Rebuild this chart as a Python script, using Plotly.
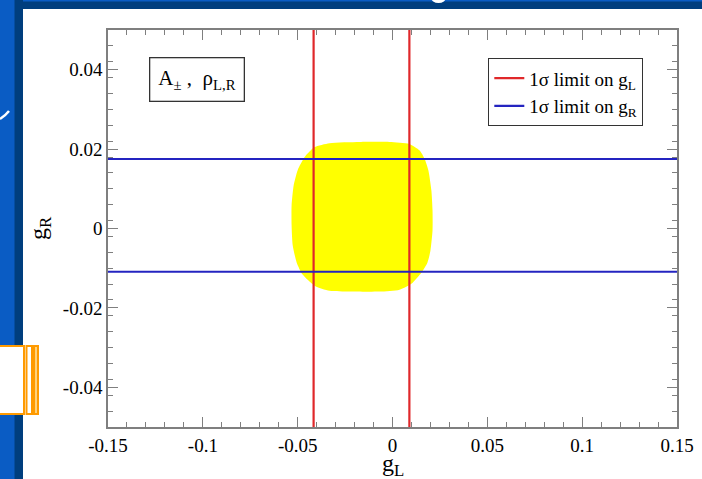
import plotly.graph_objects as go

# ---- data ----
gL_limits = [-0.0416, 0.0089]          # 1 sigma limits on g_L (vertical red lines)
gR_limits = [0.0175, -0.0109]          # 1 sigma limits on g_R (horizontal blue lines)

region_gL = [-0.0332, -0.0174, -0.0016, 0.0089, 0.0142, 0.0168, 0.0189, 0.0205, 0.0211,
             0.0211, 0.0200, 0.0184, 0.0153, 0.0105, 0.0037, -0.0068, -0.0226, -0.0332,
             -0.0411, -0.0474, -0.0505, -0.0526, -0.0532, -0.0532, -0.0521, -0.0500,
             -0.0463, -0.0411, -0.0332]
region_gR = [0.0215, 0.0218, 0.0218, 0.0213, 0.0197, 0.0177, 0.0147, 0.0096, 0.0046,
             -0.0005, -0.0056, -0.0086, -0.0111, -0.0137, -0.0154, -0.0159, -0.0159, -0.0157,
             -0.0144, -0.0116, -0.0086, -0.0043, 0.0008, 0.0058, 0.0109, 0.0147,
             0.0180, 0.0205, 0.0215]

x_range = [-0.15, 0.15]
y_range = [-0.05, 0.05]
x_tickvals = [-0.15, -0.1, -0.05, 0, 0.05, 0.1, 0.15]
x_ticktext = ["-0.15", "-0.1", "-0.05", "0", "0.05", "0.1", "0.15"]
y_tickvals = [-0.04, -0.02, 0, 0.02, 0.04]
y_ticktext = ["-0.04", "-0.02", "0", "0.02", "0.04"]

W, H = 702, 479
SERIF = "Liberation Serif"
AXC = "#7f7f7f"

def px(x):
    return x / W

def py(y):
    return 1 - y / H

fig = go.Figure()

# allowed region (yellow)
fig.add_trace(go.Scatter(x=region_gL, y=region_gR, fill="toself", fillcolor="#FFFF00",
                         mode="lines", line=dict(width=0, color="#FFFF00", shape="spline", smoothing=0.6),
                         showlegend=False, hoverinfo="skip"))

# red vertical lines
rx, ry = [], []
for v in gL_limits:
    rx += [v, v, None]
    ry += [y_range[0], y_range[1], None]
fig.add_trace(go.Scatter(x=rx, y=ry, mode="lines", line=dict(color="#E0282A", width=2.2),
                         name="1σ limit on g<sub>L</sub>"))

# blue horizontal lines
bx, by = [], []
for v in gR_limits:
    bx += [x_range[0], x_range[1], None]
    by += [v, v, None]
fig.add_trace(go.Scatter(x=bx, y=by, mode="lines", line=dict(color="#2424C0", width=2.2),
                         name="1σ limit on g<sub>R</sub>"))

axis_common = dict(showline=True, linecolor=AXC, linewidth=1.5, mirror="allticks",
                   ticks="inside", ticklen=10, tickwidth=1.3, tickcolor=AXC,
                   showgrid=False, zeroline=False, automargin=False,
                   tickfont=dict(family=SERIF, size=19, color="black"))

fig.update_xaxes(range=x_range, domain=[px(108), px(677)], tickvals=x_tickvals,
                 ticktext=x_ticktext,
                 minor=dict(dtick=0.01, tick0=-0.15, ticks="inside", ticklen=5,
                            tickcolor=AXC, tickwidth=1.2),
                 **axis_common)
fig.update_yaxes(range=y_range, domain=[py(427), py(30)], tickvals=y_tickvals,
                 ticktext=y_ticktext,
                 minor=dict(dtick=0.004, tick0=-0.05, ticks="inside", ticklen=5,
                            tickcolor=AXC, tickwidth=1.2),
                 **axis_common)

shapes = [
    # slide background pieces
    dict(type="rect", xref="paper", yref="paper", x0=0, x1=1, y0=py(9), y1=1,
         fillcolor="#003E7E", line=dict(width=0), layer="below"),
    dict(type="rect", xref="paper", yref="paper", x0=0, x1=1, y0=py(1.5), y1=1,
         fillcolor="#0A5CC4", line=dict(width=0), layer="below"),
    dict(type="rect", xref="paper", yref="paper", x0=0, x1=px(23), y0=0, y1=1,
         fillcolor="#003E7E", line=dict(width=0), layer="below"),
    dict(type="rect", xref="paper", yref="paper", x0=0, x1=px(14.5), y0=0, y1=1,
         fillcolor="#0A5CC4", line=dict(width=0), layer="below"),
    # fragment of slide text at the left edge
    dict(type="path", xref="paper", yref="paper",
         path=f"M 0,{py(119)} Q {px(5)},{py(116)} {px(9)},{py(111)}",
         line=dict(color="white", width=2.5)),
    # fragment of slide title at the top edge
    dict(type="circle", xref="paper", yref="paper", x0=px(431), x1=px(446), y0=py(3), y1=py(-8),
         fillcolor="white", line=dict(width=0)),
    # orange boxes
    dict(type="rect", xref="paper", yref="paper", x0=px(-3), x1=px(24), y0=py(414), y1=py(346),
         fillcolor="white", line=dict(color="#FF9A00", width=2)),
    dict(type="rect", xref="paper", yref="paper", x0=px(26.5), x1=px(32), y0=py(414), y1=py(346),
         fillcolor="white", line=dict(color="#FF9A00", width=2)),
    dict(type="rect", xref="paper", yref="paper", x0=px(34), x1=px(38), y0=py(414), y1=py(346),
         fillcolor="#FFD27A", line=dict(color="#FF9A00", width=2)),
]

annotations = [
    dict(text="A<sub>±</sub> ,  ρ<sub>L,R</sub>", xref="paper", yref="paper",
         x=px(196.5), y=py(79), xanchor="center", yanchor="middle", showarrow=False,
         font=dict(family=SERIF, size=21, color="black"),
         bordercolor="#333333", borderwidth=1.3, borderpad=8, bgcolor="white"),
    dict(text="g<sub>L</sub>", xref="paper", yref="paper", x=px(393), y=py(465),
         xanchor="center", yanchor="middle", showarrow=False,
         font=dict(family=SERIF, size=24, color="black")),
    dict(text="g<sub>R</sub>", xref="paper", yref="paper", x=px(40), y=py(228),
         xanchor="center", yanchor="middle", showarrow=False, textangle=-90,
         font=dict(family=SERIF, size=24, color="black")),
]

fig.update_layout(
    width=W, height=H, margin=dict(l=0, r=0, t=0, b=0, pad=0, autoexpand=False),
    autosize=False,
    paper_bgcolor="white", plot_bgcolor="white",
    shapes=shapes, annotations=annotations,
    legend=dict(x=px(488), y=py(58), xanchor="left", yanchor="top",
                bordercolor="#333333", borderwidth=1.3, bgcolor="white",
                font=dict(family=SERIF, size=19, color="black"),
                tracegroupgap=0, itemwidth=30),
)

fig.write_html("out.html")
